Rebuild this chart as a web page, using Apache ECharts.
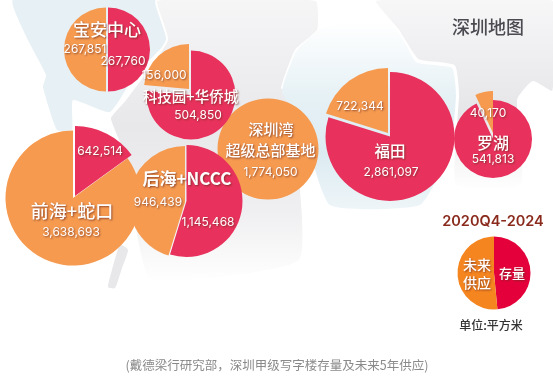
<!DOCTYPE html>
<html>
<head>
<meta charset="utf-8">
<style>
  html, body { margin: 0; padding: 0; background: #fff; }
  #chart { width: 553px; height: 378px; }
</style>
<script src="https://cdn.jsdelivr.net/npm/echarts@6/dist/echarts.min.js"></script>
</head>
<body>
<div id="chart"></div>
<script>
const areaNames = ['深圳湾', '宝安中心', '科技园+华侨城', '前海+蛇口', '后海+NCCC', '福田', '罗湖']
const stockValues = [0, 267760, 504850, 642514, 1145468, 2861097, 541813]
const supplyValues = [1774050, 267851, 156000, 3638693, 946439, 722344, 40170]
const legendNames = ['存量', '未来供应']
const legendValues = [48.5, 51.5]

const RED = '#e8315c'
const ORANGE = '#f59a4f'
const CJK = '"Noto Sans CJK SC", sans-serif'
const NUM = 'Inter, "Noto Sans", sans-serif'

// 每个饼的两块各自摆放（存量 / 供应），[cx, cy, r]
const stockPos = [null, [108, 49.5, 42], [191, 95, 44.5], [75, 196, 70], [186.5, 201, 56], [390, 136.5, 64.5], [493, 139, 39]]
const supplyPos = [[268, 149, 50.5], [106, 49.5, 42], [189, 89, 45], [73, 198, 67.5], [185, 202, 56], [388, 133, 65], [493, 133, 42]]

function slice(pos, stock, supply, showStock, color, z) {
  return {
    type: 'pie',
    silent: true,
    z: z,
    center: [pos[0], pos[1]],
    radius: [0, pos[2]],
    startAngle: 90,
    clockwise: true,
    animation: false,
    label: { show: false },
    labelLine: { show: false },
    data: [
      { value: stock, itemStyle: { color: showStock ? color : 'rgba(0,0,0,0)' } },
      { value: supply, itemStyle: { color: showStock ? 'rgba(0,0,0,0)' : color } }
    ]
  }
}

const series = []
areaNames.forEach((name, i) => {
  series.push(slice(supplyPos[i], stockValues[i], supplyValues[i], false, ORANGE, 2 + i))
  if (stockPos[i]) series.push(slice(stockPos[i], stockValues[i], supplyValues[i], true, RED, 2 + i))
})
series.push(slice([494, 273, 36.5], legendValues[0], legendValues[1], true, '#e4003a', 10))
series.push(slice([494, 273, 36.5], legendValues[0], legendValues[1], false, '#f5851f', 10))

function fmt(v) {
  return v.toLocaleString('en-US')
}

function label(text, x, y, size, opt) {
  const o = opt || {}
  return {
    type: 'text',
    z: 100,
    silent: true,
    style: {
      text: text,
      x: x,
      y: y,
      align: 'center',
      verticalAlign: 'middle',
      font: (o.weight || '500') + ' ' + size + 'px ' + (o.family || CJK),
      fill: o.color || '#fff',
      textShadowColor: o.shadow === false ? 'transparent' : 'rgba(110,40,30,0.75)',
      textShadowBlur: o.shadow === false ? 0 : 2,
      textShadowOffsetX: o.shadow === false ? 0 : 1,
      textShadowOffsetY: o.shadow === false ? 0 : 1
    }
  }
}

function num(v, x, y, size) {
  return label(fmt(v), x, y, size || 12, { family: NUM, weight: '400' })
}

const texts = [
  label(areaNames[1], 107, 30, 17),
  num(supplyValues[1], 85, 49),
  num(stockValues[1], 123, 61),
  num(supplyValues[2], 164, 75),
  label(areaNames[2], 190.5, 96.5, 14.5),
  num(stockValues[2], 198, 115),
  num(stockValues[3], 100, 151),
  label(areaNames[3], 72, 211, 18),
  num(supplyValues[3], 71, 232),
  label(areaNames[4], 187, 179, 17, { weight: 'bold' }),
  num(supplyValues[4], 158, 202),
  num(stockValues[4], 208, 222),
  label(areaNames[0], 271, 129, 15),
  label('超级总部基地', 270.5, 150, 15),
  num(supplyValues[0], 270.5, 172),
  num(supplyValues[5], 360, 106),
  label(areaNames[5], 390, 151, 15.5),
  num(stockValues[5], 391, 172),
  num(supplyValues[6], 488, 113),
  label(areaNames[6], 493, 143, 16),
  num(stockValues[6], 493, 159),
  label('深圳地图', 488, 27, 18, { color: '#4a4a50', shadow: false }),
  label('2020Q4-2024', 493, 222, 14.5, { color: '#8a2a1c', shadow: false, family: NUM, weight: '600' }),
  label(legendNames[0], 512, 273, 13),
  label('未来', 477, 265, 14),
  label('供应', 477, 283, 14),
  label('单位:平方米', 491, 325, 12, { color: '#333', shadow: false }),
  label('(戴德梁行研究部，深圳甲级写字楼存量及未来5年供应)', 277, 365, 12.5, { color: '#8a8a8a', shadow: false, weight: 'normal' })
]

// 底图：浅灰陆地和浅蓝水域，上下都淡出
function fade(stops) {
  return { type: 'linear', x: 0, y: 0, x2: 0, y2: 1, colorStops: stops }
}
const landFill = fade([{ offset: 0, color: '#f6f6f7' }, { offset: 0.45, color: '#e8e8eb' }, { offset: 0.75, color: '#efeff1' }, { offset: 1, color: '#ffffff' }])
const rightFill = fade([{ offset: 0, color: '#f8f8f9' }, { offset: 0.6, color: '#e6e6e9' }, { offset: 1, color: '#ffffff' }])
const bayFill = fade([{ offset: 0, color: '#ffffff' }, { offset: 0.4, color: '#e6f1f5' }, { offset: 0.7, color: '#dcebf2' }, { offset: 1, color: '#eef5f8' }])
const coast = { stroke: '#ffffff', lineWidth: 2 }
const mapShapes = [
  { type: 'polygon', z: 0, silent: true, shape: { smooth: 0.15, points: [[13, 0], [28, 40], [46, 75], [43, 87], [57, 130], [72, 130], [73, 100], [110, 112], [135, 75], [167, 40], [157, 0]] }, style: { fill: '#e7f0f4' } },
  { type: 'polygon', z: 0, silent: true, shape: { smooth: 0.15, points: [[157, 0], [167, 40], [125, 100], [110, 118], [122, 150], [130, 200], [150, 280], [300, 260], [290, 95], [282, 88], [296, 50], [318, 30], [316, 0]] }, style: Object.assign({ fill: landFill }, coast) },
  { type: 'polygon', z: 0, silent: true, shape: { smooth: 0.2, points: [[120, 245], [112, 270], [108, 287], [115, 288], [122, 268], [128, 250]] }, style: { fill: '#e8e8eb' } },
  { type: 'polygon', z: 0, silent: true, shape: { smooth: 0.15, points: [[282, 92], [296, 52], [318, 30], [345, 22], [395, 25], [416, 62], [452, 68], [456, 95], [450, 150], [420, 205], [330, 205], [300, 120]] }, style: { fill: bayFill } },
  { type: 'polygon', z: 0, silent: true, shape: { smooth: 0.15, points: [[375, 0], [553, 0], [553, 92], [533, 82], [518, 100], [522, 185], [455, 185], [458, 95], [454, 66], [418, 60], [398, 30]] }, style: Object.assign({ fill: rightFill }, coast) }
]

const chart = echarts.init(document.getElementById('chart'))
chart.setOption({
  animation: false,
  backgroundColor: '#fff',
  graphic: { elements: mapShapes.concat(texts) },
  series: series
})
</script>
</body>
</html>
